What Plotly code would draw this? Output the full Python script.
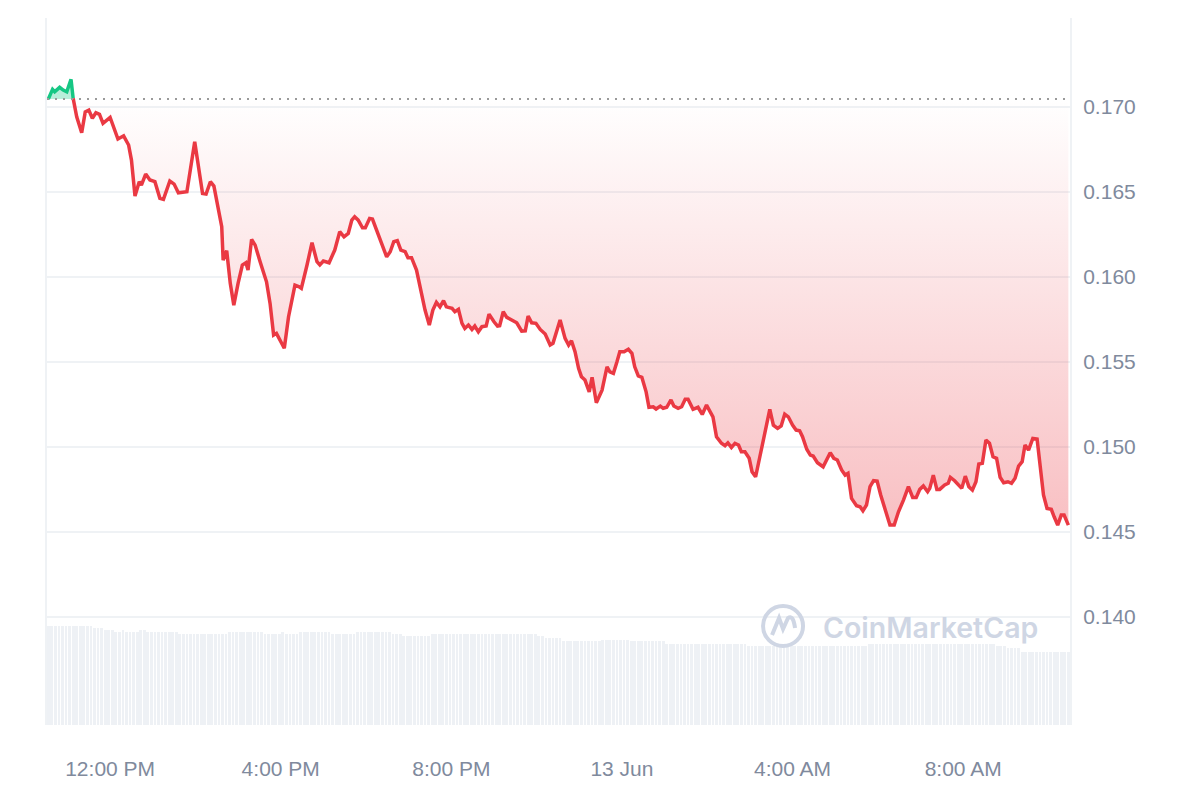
import pandas as pd
import plotly.graph_objects as go

#### price (5-min-ish points, minutes after the first point) ####

start = pd.Timestamp("2024-06-12 10:33")

minutes = [0, 6, 9, 16, 21, 26, 32, 35, 40, 47, 52, 57, 62, 67, 72, 77, 87, 98, 106, 113,
           117, 122, 128, 131, 137, 143, 150, 157, 162, 171, 177, 183, 195, 206, 217, 222, 228, 233, 239, 244,
           246, 251, 256, 261, 267, 273, 278, 281, 286, 291, 298, 307, 312, 317, 321, 332, 338, 347, 353,
           356, 364, 371, 378, 382, 387, 395, 403, 410, 416, 422, 427, 431, 436, 442, 446, 452, 456, 464, 476,
           481, 486, 491, 496, 502, 506, 511, 518, 525, 530, 536, 541, 546, 551, 556, 560, 568, 572, 577, 582,
           586, 591, 596, 600, 605, 610, 616, 620, 627, 632, 635, 640, 645, 652, 659, 666, 671, 675, 680, 686,
           692, 699, 706, 710, 720,
           727, 732, 736, 741, 746, 750, 755, 761, 765, 771, 779, 786, 790, 795, 800, 804, 810, 816, 821, 825,
           830, 835, 841, 845, 851, 855, 861, 865, 870, 876, 880, 886, 891, 896, 900, 907, 914, 920, 926, 935,
           940, 947, 952, 956, 961, 966, 971, 975, 980, 986, 990, 995, 1001, 1006, 1011, 1015, 1020, 1026, 1031,
           1036, 1041, 1047, 1052, 1057, 1061, 1067, 1072,
           1076, 1082, 1090, 1100, 1105, 1110, 1116, 1121, 1125, 1130, 1137, 1142, 1146, 1151, 1156, 1161, 1166,
           1171, 1177, 1184, 1190, 1196, 1203, 1210, 1216, 1221, 1226, 1231, 1237, 1240, 1245, 1250, 1254, 1261,
           1266, 1269, 1275, 1285, 1290, 1295, 1300, 1305, 1309, 1314, 1319, 1324, 1329, 1334, 1339, 1344, 1350,
           1355, 1360, 1365, 1370, 1374, 1379, 1385, 1391, 1395, 1400, 1405, 1411, 1415, 1420, 1425, 1429, 1435]

prices = [0.17044, 0.17101, 0.17087, 0.17113, 0.17097, 0.17087, 0.17160, 0.17048, 0.16940, 0.16846,
          0.16969, 0.16979, 0.16931, 0.16964, 0.16954, 0.16901, 0.16936, 0.16809, 0.16828, 0.16774,
          0.16685, 0.16474, 0.16558, 0.16538, 0.16603, 0.16568, 0.16558, 0.16460, 0.16454, 0.16562,
          0.16544, 0.16493, 0.16499, 0.16793, 0.16489, 0.16485, 0.16558, 0.16532, 0.16411, 0.16293,
          0.16097, 0.16152, 0.15960, 0.15832, 0.15960, 0.16068, 0.16081, 0.16038, 0.16219, 0.16185,
          0.16087, 0.15969, 0.15842, 0.15656, 0.15666, 0.15578, 0.15764, 0.15950, 0.15940,
          0.15931, 0.16068, 0.16199, 0.16087, 0.16068, 0.16091, 0.16081, 0.16156, 0.16264, 0.16234,
          0.16254, 0.16332, 0.16352, 0.16332, 0.16287, 0.16287, 0.16342, 0.16338, 0.16244, 0.16116,
          0.16146, 0.16205, 0.16211, 0.16156, 0.16146, 0.16111, 0.16111, 0.16038, 0.15901, 0.15803,
          0.15715, 0.15803, 0.15848, 0.15822, 0.15858, 0.15822, 0.15813, 0.15793, 0.15807, 0.15725,
          0.15695, 0.15715, 0.15689, 0.15709, 0.15675, 0.15705, 0.15709, 0.15779, 0.15734, 0.15709,
          0.15711, 0.15793, 0.15760, 0.15744, 0.15728, 0.15679, 0.15681, 0.15768, 0.15728, 0.15725,
          0.15689, 0.15662, 0.15597, 0.15607, 0.15744,
          0.15636, 0.15597, 0.15622, 0.15558, 0.15460, 0.15411, 0.15391, 0.15322, 0.15407, 0.15258,
          0.15332, 0.15469, 0.15440, 0.15431, 0.15499, 0.15558, 0.15558, 0.15572, 0.15548, 0.15469,
          0.15415, 0.15407, 0.15322, 0.15231, 0.15234, 0.15221, 0.15238, 0.15225, 0.15231, 0.15274,
          0.15238, 0.15225, 0.15234, 0.15278, 0.15278, 0.15219, 0.15231, 0.15189, 0.15244, 0.15175,
          0.15058, 0.15019, 0.15005, 0.15022, 0.14995, 0.15019, 0.15009, 0.14969, 0.14969, 0.14931,
          0.14852, 0.14822, 0.14940, 0.15038, 0.15156, 0.15219, 0.15126, 0.15107, 0.15121, 0.15191,
          0.15175, 0.15126, 0.15097, 0.15093, 0.15058, 0.14984, 0.14950,
          0.14944, 0.14905, 0.14881, 0.14964, 0.14931, 0.14921, 0.14862, 0.14832, 0.14842, 0.14695,
          0.14652, 0.14646, 0.14622, 0.14656, 0.14764, 0.14799, 0.14797, 0.14715, 0.14636, 0.14538,
          0.14538, 0.14616, 0.14685, 0.14764, 0.14701, 0.14701, 0.14748, 0.14768, 0.14734, 0.14754,
          0.14832, 0.14748, 0.14748, 0.14774, 0.14784, 0.14819, 0.14799, 0.14754, 0.14826, 0.14764,
          0.14744, 0.14793, 0.14897, 0.14901, 0.15038, 0.15019, 0.14940, 0.14931, 0.14819, 0.14787,
          0.14793, 0.14784, 0.14813, 0.14885, 0.14911, 0.15009, 0.14979, 0.15048, 0.15044, 0.14891,
          0.14715, 0.14636, 0.14631, 0.14587, 0.14538, 0.14597, 0.14597, 0.14538]

assert len(minutes) == len(prices), (len(minutes), len(prices))

#### volume bars (24h volume, millions), as runs of equal bars ####
vol_levels = [9.90, 9.67, 9.47, 9.27, 9.47, 9.27, 9.47, 9.27, 9.07, 9.27, 9.07, 9.27, 9.07, 9.27,
              9.07, 9.27, 9.07, 8.87, 9.07, 8.87, 8.67, 8.40, 8.53, 8.36, 8.12, 7.91, 8.12, 7.91,
              7.67, 7.33]
vol_counts = [13, 3, 3, 2, 1, 4, 2, 9, 14, 10, 5, 1, 4, 9,
              7, 10, 3, 8, 30, 2, 5, 11, 8, 10, 23, 34, 36, 3,
              4, 14]

price_ticks = [0.140, 0.145, 0.150, 0.155, 0.160, 0.165, 0.170]
time_ticks = ["2024-06-12 12:00", "2024-06-12 16:00", "2024-06-12 20:00",
              "2024-06-13 00:00", "2024-06-13 04:00", "2024-06-13 08:00"]
time_labels = ["12:00 PM", "4:00 PM", "8:00 PM", "13 Jun", "4:00 AM", "8:00 AM"]

times = [start + pd.Timedelta(minutes=m) for m in minutes]
volume = []
for lvl, n in zip(vol_levels, vol_counts):
    volume += [lvl] * n
bar_times = [start + pd.Timedelta(minutes=5 * k) for k in range(len(volume))]
base = prices[0]
cross = 7  # where the line drops under the open price

GREEN = "#16c784"
RED = "#ea3943"
GREY = "#808a9d"

fig = go.Figure()
fig.add_bar(x=bar_times, y=volume, marker_color="#eef1f5", marker_line_width=0,
            width=3.9 * 60 * 1000, yaxis="y", hoverinfo="skip", showlegend=False)

# green part (above open)
fig.add_scatter(x=[times[0], times[cross]], y=[base, base], mode="lines",
                line=dict(width=0), yaxis="y2", showlegend=False, hoverinfo="skip")
fig.add_scatter(x=times[:cross + 1], y=prices[:cross + 1], mode="lines", yaxis="y2",
                line=dict(color=GREEN, width=3.5), fill="tonexty",
                fillcolor="rgba(22,199,132,0.3)", showlegend=False)

# red part (below open)
fig.add_scatter(x=[times[cross], times[-1]], y=[base, base], mode="lines",
                line=dict(width=0), yaxis="y2", showlegend=False, hoverinfo="skip")
fig.add_scatter(x=times[cross:], y=prices[cross:], mode="lines", yaxis="y2",
                line=dict(color=RED, width=3.5), fill="tonexty",
                fillgradient=dict(type="vertical",
                                  colorscale=[[0, "rgba(234,57,67,0.32)"],
                                              [1, "rgba(234,57,67,0.0)"]]),
                showlegend=False)

# dotted open-price line
fig.add_shape(type="line", xref="paper", x0=0, x1=1, yref="y2", y0=base, y1=base,
              line=dict(color="#9a9a9a", width=2, dash="2px,6px"))

# watermark
fig.add_shape(type="circle", xref="paper", yref="paper", xsizemode="pixel", ysizemode="pixel",
              xanchor=0.7195, yanchor=0.14, x0=-20, x1=20, y0=-20, y1=20,
              line=dict(color="#cfd6e4", width=4))
fig.add_shape(type="path", xref="paper", yref="paper", xsizemode="pixel", ysizemode="pixel",
              xanchor=0.7195, yanchor=0.14,
              path="M -11,-9 L -4,8 L 0,-3 L 5,8 Q 10,12 12,-2",
              line=dict(color="#cfd6e4", width=4))
fig.add_annotation(x=0.7566, y=0.138, xref="paper", yref="paper", xanchor="left", yanchor="middle",
                   text="CoinMarketCap", showarrow=False,
                   font=dict(family="Inter", size=28.5, color="#cfd6e4", weight=600))

# page body adds 8px, so margins are shifted by that
fig.update_layout(
    width=1200, height=800,
    margin=dict(l=39, r=138, t=10, b=83),
    paper_bgcolor="white", plot_bgcolor="white",
    font=dict(family="Liberation Sans, Arial", color=GREY, size=21),
    bargap=0,
    xaxis=dict(type="date",
               range=[start - pd.Timedelta(minutes=1.8), start + pd.Timedelta(minutes=1437.3)],
               tickvals=time_ticks, ticktext=time_labels, showgrid=False, zeroline=False,
               showline=False, ticks="", ticklabelstandoff=29, tickfont=dict(size=21, color=GREY)),
    yaxis=dict(range=[0, 70.7], visible=False, fixedrange=True),
    yaxis2=dict(overlaying="y", side="right", range=[0.13362, 0.17521],
                tickvals=price_ticks, ticktext=[f"{v:.3f}" for v in price_ticks],
                showgrid=True, gridcolor="#eff2f5", gridwidth=2, zeroline=False,
                showline=True, mirror=True, linecolor="#eff2f5", linewidth=2,
                ticks="", ticklabelstandoff=7, tickfont=dict(size=21, color=GREY)),
)

fig.write_html("out.html")
